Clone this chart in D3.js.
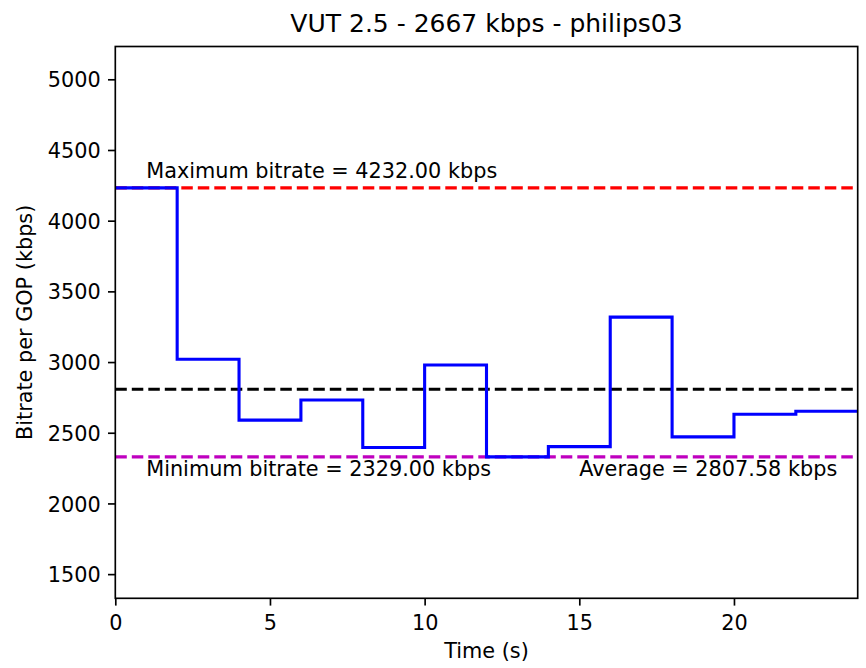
<!DOCTYPE html>
<html>
<head>
<meta charset="utf-8">
<script src="https://cdn.jsdelivr.net/npm/d3@7/dist/d3.min.js"></script>
<style>
  html, body { margin: 0; padding: 0; background: #fff; }
  svg { display: block; font-family: "DejaVu Sans", sans-serif; }
</style>
</head>
<body>
<svg id="chart" width="866" height="668"></svg>
<script>
// Bitrate per GOP, one value per 2-second GOP
const gopStart = [0, 2, 4, 6, 8, 10, 12, 14, 16, 18, 20, 22];
const gopBitrate = [4232, 3020, 2589, 2732, 2396, 2979, 2329, 2402, 3318, 2471, 2631, 2652];
const clipEnd = 24;

const maxBitrate = 4232.00;
const minBitrate = 2329.00;
const avgBitrate = 2807.58;

const xTicks = [0, 5, 10, 15, 20];
const yTicks = [1500, 2000, 2500, 3000, 3500, 4000, 4500, 5000];

const titleText = "VUT 2.5 - 2667 kbps - philips03";
const xLabel = "Time (s)";
const yLabel = "Bitrate per GOP (kbps)";

const svg = d3.select("#chart");
const plot = { left: 115.3, right: 857.7, top: 46.5, bottom: 598.3 };
const fontSize = 20.8;

const x = d3.scaleLinear().domain([0, clipEnd]).range([plot.left, plot.right]);
const y = d3.scaleLinear().domain([minBitrate - 1000, maxBitrate + 1000]).range([plot.bottom, plot.top]);

const clip = svg.append("clipPath").attr("id", "plotclip")
  .append("rect")
  .attr("x", plot.left).attr("y", plot.top)
  .attr("width", plot.right - plot.left).attr("height", plot.bottom - plot.top);

const dash = "11.5,5";
const refLines = [
  { v: maxBitrate, color: "#ff0000" },
  { v: avgBitrate, color: "#000000" },
  { v: minBitrate, color: "#bf00bf" }
];

const g = svg.append("g").attr("clip-path", "url(#plotclip)");

g.selectAll("line.ref").data(refLines).join("line")
  .attr("class", "ref")
  .attr("x1", plot.left).attr("x2", plot.right)
  .attr("y1", d => y(d.v)).attr("y2", d => y(d.v))
  .attr("stroke", d => d.color)
  .attr("stroke-width", 3.1)
  .attr("stroke-dasharray", dash);

// step line held until the next GOP starts
const stepPts = gopStart.map((t, i) => [t, gopBitrate[i]]);
stepPts.push([clipEnd, gopBitrate[gopBitrate.length - 1]]);
const stepLine = d3.line().x(d => x(d[0])).y(d => y(d[1])).curve(d3.curveStepAfter);
g.append("path")
  .datum(stepPts)
  .attr("d", stepLine)
  .attr("fill", "none")
  .attr("stroke", "#0000ff")
  .attr("stroke-width", 3.1)
  .attr("stroke-linejoin", "miter");

// annotations
const ann = svg.append("g").attr("font-size", fontSize).attr("fill", "#000");
ann.append("text").attr("x", x(1)).attr("y", y(maxBitrate) - 9.4)
  .text(`Maximum bitrate = ${maxBitrate.toFixed(2)} kbps`);
ann.append("text").attr("x", x(1)).attr("y", y(minBitrate) + 19.2)
  .text(`Minimum bitrate = ${minBitrate.toFixed(2)} kbps`);
ann.append("text").attr("x", x(15)).attr("y", y(minBitrate) + 19.2)
  .text(`Average = ${avgBitrate.toFixed(2)} kbps`);

// axes
const tickLen = 7.3, tickPad = 7.3, lw = 1.67;
const xAxis = svg.append("g").attr("transform", `translate(0,${plot.bottom})`)
  .call(d3.axisBottom(x).tickValues(xTicks).tickSize(tickLen).tickPadding(tickPad).tickFormat(d3.format("d")));
const yAxis = svg.append("g").attr("transform", `translate(${plot.left},0)`)
  .call(d3.axisLeft(y).tickValues(yTicks).tickSize(tickLen).tickPadding(tickPad).tickFormat(d3.format("d")));
[xAxis, yAxis].forEach(a => {
  a.select(".domain").remove();
  a.selectAll(".tick line").attr("stroke", "#000").attr("stroke-width", lw);
  a.selectAll(".tick text").attr("font-size", fontSize).attr("fill", "#000")
    .attr("font-family", "DejaVu Sans, sans-serif");
});
xAxis.selectAll(".tick text").attr("dy", null).attr("y", tickLen + tickPad + 16.8);
yAxis.selectAll(".tick text").attr("dy", null).attr("y", 7.6);

// frame
svg.append("rect")
  .attr("x", plot.left).attr("y", plot.top)
  .attr("width", plot.right - plot.left).attr("height", plot.bottom - plot.top)
  .attr("fill", "none").attr("stroke", "#000").attr("stroke-width", lw);

// titles
svg.append("text").attr("x", (plot.left + plot.right) / 2).attr("y", 32)
  .attr("text-anchor", "middle").attr("font-size", 25).text(titleText);
svg.append("text").attr("x", (plot.left + plot.right) / 2).attr("y", 658)
  .attr("text-anchor", "middle").attr("font-size", fontSize).text(xLabel);
svg.append("text")
  .attr("transform", `translate(32,${(plot.top + plot.bottom) / 2}) rotate(-90)`)
  .attr("text-anchor", "middle").attr("font-size", fontSize).text(yLabel);
</script>
</body>
</html>
